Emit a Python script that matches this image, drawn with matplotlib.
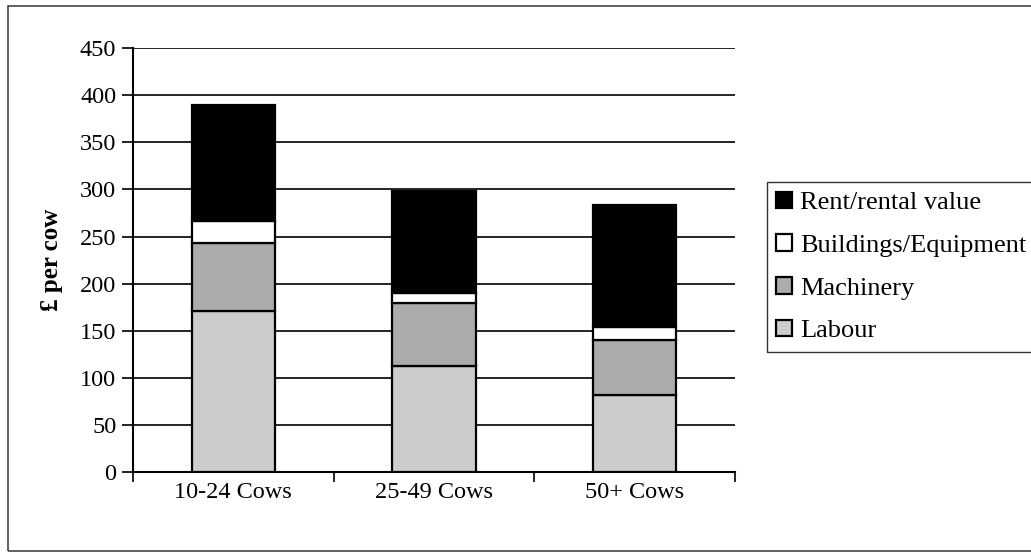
import matplotlib.pyplot as plt
import numpy as np
from matplotlib.patches import Rectangle

# Cost per cow by herd size (stacked, bottom to top)
herds = ["10-24 Cows", "25-49 Cows", "50+ Cows"]
labour = [171, 113, 82]
machinery = [72, 66, 58]
buildings = [23, 11, 14]
rent = [124, 108, 129]

series = [
    ("Labour", labour, "#cccccc"),
    ("Machinery", machinery, "#ababab"),
    ("Buildings/Equipment", buildings, "#ffffff"),
    ("Rent/rental value", rent, "#000000"),
]


def main():
    plt.rcParams["font.family"] = ["Liberation Serif", "DejaVu Serif"]
    fig = plt.figure(figsize=(10.31, 5.54), dpi=100)
    ax = fig.add_axes([0.129, 0.148, 0.584, 0.765])

    x = np.arange(len(herds))
    bottom = np.zeros(len(herds))
    handles = []
    for name, vals, col in series:
        b = ax.bar(x, vals, 0.415, bottom=bottom, color=col,
                   edgecolor="black", linewidth=1.6, label=name, zorder=3)
        handles.append(b)
        bottom += np.array(vals)

    ax.set_xlim(-0.5, 2.5)
    ax.set_ylim(0, 450)
    ax.set_yticks(range(0, 451, 50))
    ax.yaxis.grid(True, color="black", linewidth=1.2, zorder=0)
    ax.set_axisbelow(True)

    # category ticks sit on the boundaries between groups
    ax.set_xticks(x)
    ax.set_xticklabels(herds)
    ax.set_xticks([-0.5, 0.5, 1.5, 2.5], minor=True)
    ax.tick_params(axis="x", which="major", length=0, labelsize=17.5, pad=7)
    ax.tick_params(axis="x", which="minor", length=7, width=1.2, direction="out")
    ax.tick_params(axis="y", length=8, width=1.2, direction="out",
                   labelsize=17.5, pad=4)

    for s in ["top", "right"]:
        ax.spines[s].set_visible(False)
    ax.spines["left"].set_linewidth(1.5)
    ax.spines["bottom"].set_linewidth(1.5)

    ax.set_ylabel("£ per cow", fontsize=18, fontweight="bold", labelpad=12)

    leg = fig.legend(handles[::-1], [s[0] for s in series][::-1],
                     loc="upper left", bbox_to_anchor=(0.744, 0.671),
                     borderaxespad=0, fontsize=19, frameon=True,
                     fancybox=False, edgecolor="black",
                     handlelength=0.6, handleheight=0.6,
                     handletextpad=0.3, labelspacing=0.76, borderpad=0.35)
    leg.get_frame().set_linewidth(1.0)

    # outer chart border
    fig.patches.append(Rectangle((0.008, 0.006), 1.2, 0.984,
                                 transform=fig.transFigure, fill=False,
                                 edgecolor="#444444", linewidth=1.2))

    fig.savefig("out.png", dpi=100)


if __name__ == "__main__":
    main()
